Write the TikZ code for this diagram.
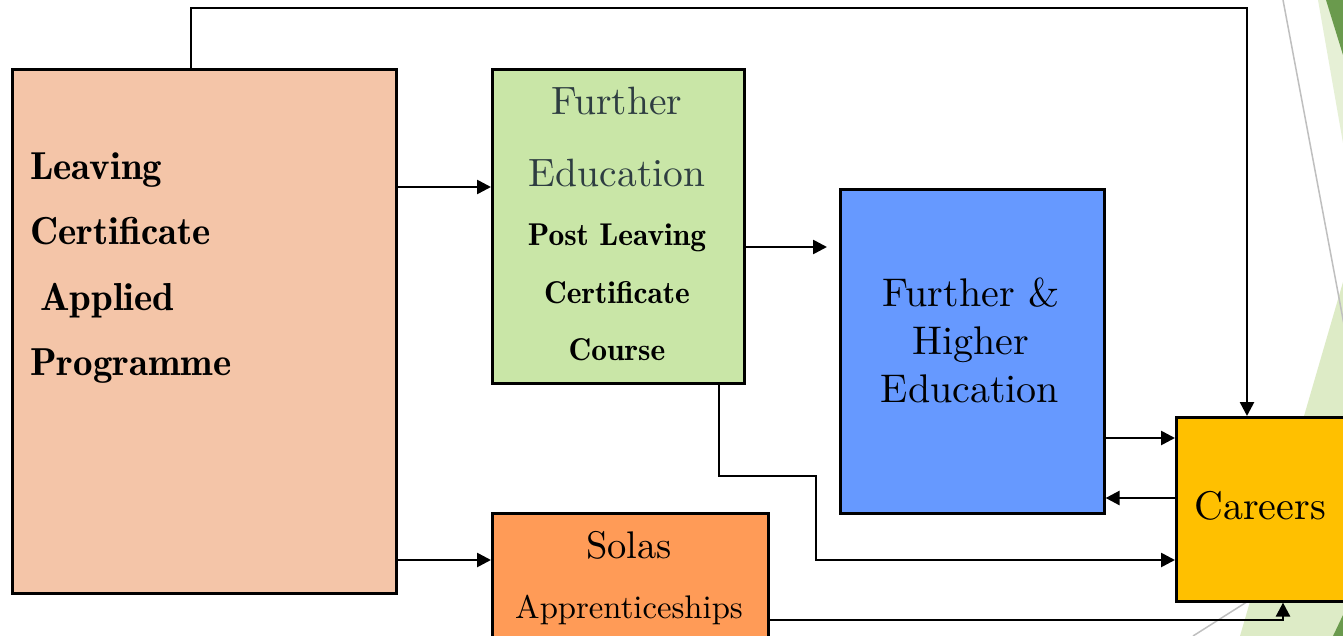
\documentclass[tikz,border=0pt]{standalone}
\usepackage{fontspec}
\setmainfont{lmroman10-regular.otf}
\newfontfamily\semib{lmromandemi10-regular.otf}
\usetikzlibrary{arrows.meta}
\definecolor{lcafill}{HTML}{F4C5A8}
\definecolor{fefill}{HTML}{C9E6A7}
\definecolor{fhefill}{HTML}{6699FF}
\definecolor{carfill}{HTML}{FFC000}
\definecolor{solfill}{HTML}{FF9B57}
\definecolor{fetext}{HTML}{2E3D41}
\definecolor{dkgreen}{HTML}{6A9A4D}
\definecolor{ltgreen}{HTML}{DDEBC6}
\definecolor{ltgreenb}{HTML}{E6F0D6}
\definecolor{decogray}{HTML}{BFBFBF}
\tikzset{
  boxnode/.style={draw=black, line width=2.6pt, inner sep=0pt, anchor=north west},
  conn/.style={draw=black, line width=2.6pt},
  arr/.style={conn, -{Triangle[length=14pt,width=14pt]}},
  txt/.style={inner sep=0pt, anchor=base},
  txtl/.style={inner sep=0pt, anchor=base west},
}
\newcommand{\fsz}[1]{\fontsize{#1}{#1}\selectfont}
\begin{document}
\begin{tikzpicture}[x=1pt,y=-1pt]
\clip (0,0) rectangle (1343,636);
\fill[white] (0,0) rectangle (1343,636);
% background decoration
\fill[ltgreenb] (1318,0) -- (1343,0) -- (1343,143) -- cycle;
\fill[dkgreen] (1326,0) -- (1343,0) -- (1343,55) -- cycle;
\fill[ltgreen] (1343,282) -- (1343,636) -- (1240,636) -- cycle;
\fill[dkgreen] (1343,615) -- (1343,636) -- (1333,636) -- cycle;
\draw[decogray, line width=1.5pt] (1283,0) -- (1345,330);
\draw[decogray, line width=1.5pt] (1193,636) -- (1343,541);
% boxes
\node[boxnode, fill=lcafill, minimum width=384pt, minimum height=524pt] (lca) at (11,68) {};
\node[boxnode, fill=fefill, minimum width=252pt, minimum height=314pt] (fe) at (491,68) {};
\node[boxnode, fill=fhefill, minimum width=264pt, minimum height=324pt] (fhe) at (839,188) {};
\node[boxnode, fill=carfill, minimum width=190pt, minimum height=184pt] (car) at (1175,416) {};
\node[boxnode, fill=solfill, minimum width=276pt, minimum height=150pt] (sol) at (491,512) {};
% texts
\node[txtl] (lca1) at (30,180) {\semib\fsz{39}Leaving};
\node[txtl] (lca2) at (30,245) {\semib\fsz{39}Certificate};
\node[txtl] (lca3) at (40,310) {\semib\fsz{39}Applied};
\node[txtl] (lca4) at (30,375) {\semib\fsz{39}Programme};
\node[txt, text=fetext] (fe1) at (617,115) {\fsz{39.5}Further};
\node[txt, text=fetext] (fe2) at (617,187) {\fsz{39.5}Education};
\node[txt] (fe3) at (617,246) {\semib\fsz{31.5}Post Leaving};
\node[txt] (fe4) at (617,303) {\semib\fsz{31.5}Certificate};
\node[txt] (fe5) at (617,360) {\semib\fsz{31.5}Course};
\node[txt] (fhe1) at (971,306) {\fsz{40}Further \&};
\node[txt] (fhe2) at (971,354) {\fsz{40}Higher};
\node[txt] (fhe3) at (970,402) {\fsz{40}Education};
\node[txt] (car1) at (1260,519) {\fsz{40}Careers};
\node[txt] (sol1) at (629,558) {\fsz{38.5}Solas};
\node[txt] (sol2) at (629,618) {\fsz{32.7}Apprenticeships};
% level coordinates
\coordinate (tl) at (191,8);
\coordinate (tr) at (1247,8);
\coordinate (y187) at (0,187);
\coordinate (y247) at (0,247);
\coordinate (y438) at (0,438);
\coordinate (y498) at (0,498);
\coordinate (y560) at (0,560);
\coordinate (b1) at (719,476);
\coordinate (b2) at (816,560);
\coordinate (s1) at (1283,620);
% connectors
\draw[arr] (tl |- lca.north) -- (tl) -- (tr) -- (tr |- car.north);
\draw[arr] (lca.east |- y187) -- (fe.west |- y187);
\draw[arr, shorten >=12pt] (fe.east |- y247) -- (fhe.west |- y247);
\draw[arr] (b1 |- fe.south) -- (b1) -| (b2) -- (car.west |- b2);
\draw[arr] (fhe.east |- y438) -- (car.west |- y438);
\draw[arr] (car.west |- y498) -- (fhe.east |- y498);
\draw[arr] (lca.east |- y560) -- (sol.west |- y560);
\draw[arr] (sol.east |- s1) -| (car.south -| s1);
\end{tikzpicture}
\end{document}
